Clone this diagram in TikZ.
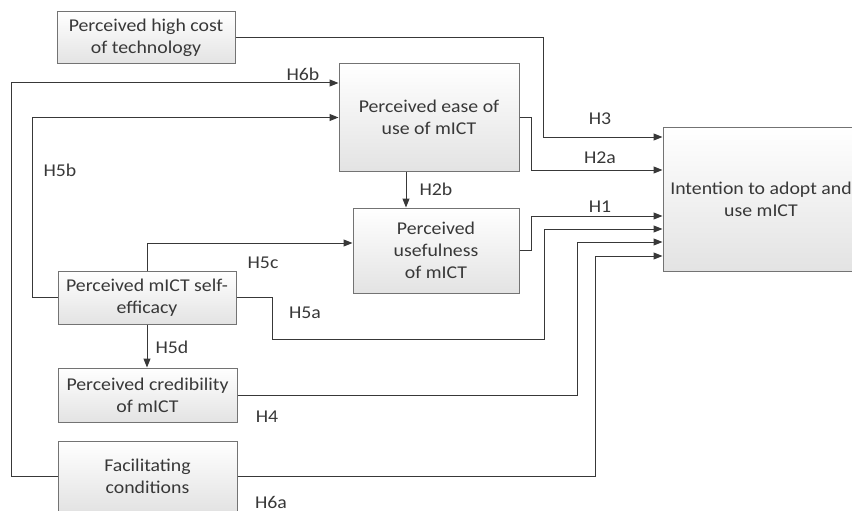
\documentclass[tikz,border=0pt]{standalone}
\usepackage{fontspec}
\setmainfont{Carlito}[FakeStretch=1.1]
\usetikzlibrary{arrows.meta}

\begin{document}
\begin{tikzpicture}[x=1pt,y=1pt]
\tikzstyle{every node}+=[inner sep=0pt, text=black!78]
\tikzstyle{box}=[draw=black!55, line width=1pt, top color=white, bottom color=black!11, align=center, font=\fontsize{18}{22}\selectfont]
\tikzstyle{link}=[draw=black!78, line width=1pt, -{Triangle[length=9pt,width=7pt]}]
\tikzstyle{hyp}=[font=\fontsize{18}{22}\selectfont]
\useasboundingbox (0,0) rectangle (852,-511);
\clip (0,0) rectangle (852,-511);
% constructs
\node [box, minimum width=178, minimum height=52] (cost) at (146,-38) {Perceived high cost\\of technology};
\node [box, minimum width=180, minimum height=107] (peou) at (429,-117.5) {Perceived ease of\\use of mICT};
\node [box, minimum width=166, minimum height=85] (pu) at (436,-250.5) {Perceived\\usefulness\\of mICT};
\node [box, minimum width=196, minimum height=144] (intent) at (761,-199) {Intention to adopt and\\use mICT};
\node [box, minimum width=178, minimum height=53] (self) at (147,-297.5) {Perceived mICT self-\\efficacy};
\node [box, minimum width=179, minimum height=54] (cred) at (147.5,-395) {Perceived credibility\\of mICT};
\node [box, minimum width=179, minimum height=70] (facil) at (147.5,-476) {Facilitating\\conditions};
% paths
\draw [link] (cost.east) -| (543,-137) -- (intent.west |- 0,-137);
\draw [link] (facil.west) -- (11,-476) |- (peou.west |- 0,-83);
\draw [link] (self.west) -- (32,-297.5) |- (peou.west);
\draw [link] (peou.east) -- (531,-117.5) |- (intent.west |- 0,-170);
\draw [link] (peou.south -| 406,0) -- (pu.north -| 406,0);
\draw [link] (pu.east) -- (531,-250.5) |- (intent.west |- 0,-216);
\draw [link] (self.north) |- (pu.west |- 0,-243);
\draw [link] (self.east) -- (272,-297.5) |- (544,-339) |- (intent.west |- 0,-229);
\draw [link] (self.south) -- (cred.north -| self.south);
\draw [link] (cred.east) -- (577,-395) |- (intent.west |- 0,-242);
\draw [link] (facil.east) -- (595,-476) |- (intent.west |- 0,-256);
% hypotheses
\node [hyp] (h3) at (600,-119) {H3};
\node [hyp] (h2a) at (600,-158) {H2a};
\node [hyp] (h1) at (600,-207) {H1};
\node [hyp] (h2b) at (436,-189) {H2b};
\node [hyp] (h6b) at (303,-74) {H6b};
\node [hyp] (h5b) at (60,-170) {H5b};
\node [hyp] (h5c) at (263,-263) {H5c};
\node [hyp] (h5a) at (305,-313) {H5a};
\node [hyp] (h5d) at (172,-347) {H5d};
\node [hyp] (h4) at (267,-417) {H4};
\node [hyp] (h6a) at (271,-502) {H6a};
\end{tikzpicture}
\end{document}
